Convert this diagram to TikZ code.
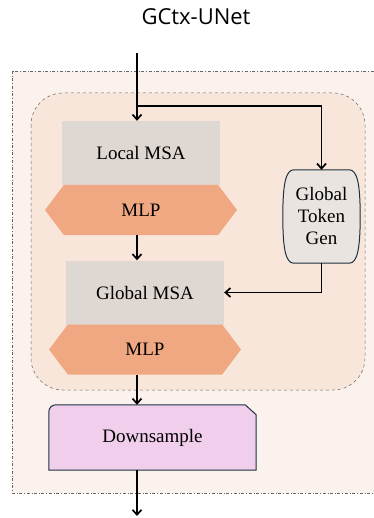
\documentclass[tikz,border=0pt]{standalone}
\usepackage{fontspec}
\setmainfont{Liberation Serif}
\newfontfamily\boxfont{Liberation Serif}
\newfontfamily\titlefont{Open Sans}
\usetikzlibrary{arrows.meta,calc,shapes.symbols,backgrounds}

\definecolor{outerfill}{RGB}{252,242,237}
\definecolor{innerfill}{RGB}{249,230,218}
\definecolor{msafill}{RGB}{223,215,209}
\definecolor{mlpfill}{RGB}{240,168,130}
\definecolor{gtgfill}{RGB}{234,228,225}
\definecolor{dsfill}{RGB}{240,206,236}
\definecolor{edgedark}{RGB}{28,50,64}

\begin{document}
\begin{tikzpicture}[x=1pt,y=-1pt,
  every node/.style={font=\boxfont\fontsize{19}{22}\selectfont},
  arr/.style={line width=1.7pt,-{Straight Barb[length=5pt,width=9pt,line width=1.7pt]}},
  msabox/.style={rectangle,fill=msafill,minimum width=158pt,minimum height=64pt,inner sep=0pt},
  mlpbox/.style={signal,signal to=west and east,signal pointer angle=106,fill=mlpfill,
    minimum width=192pt,minimum height=50pt,inner sep=0pt},
  plainbox/.style={rectangle,inner sep=0pt,align=center},
  outline/.style={draw=edgedark,line width=1pt}]
\useasboundingbox (0,0) rectangle (373,518);

\node[font=\titlefont\fontsize{22}{24}\selectfont] (title) at (196,17) {GCtx-UNet};

% blocks
\node[msabox] (lmsa) at (141,153) {Local MSA};
\node[mlpbox] (mlpa) at (141,210) {MLP};
\node[msabox] (gmsa) at (145,292.5) {Global MSA};
\node[mlpbox] (mlpb) at (145,349.5) {MLP};
\node[plainbox,minimum width=77pt,minimum height=93pt] (gtg) at (321.5,216.5) {Global\\Token\\Gen};
\node[plainbox,minimum width=207pt,minimum height=65pt] (ds) at (152.5,437.5) {Downsample};

\begin{scope}[on background layer]
% frames
\draw[gray!80!black,dash dot,fill=outerfill,line width=0.5pt] (12,71) rectangle (385,493);
\draw[gray!80!black,dashed,fill=innerfill,line width=0.5pt,rounded corners=32pt] (31,93) rectangle (365,390);
% outlines behind the text of gtg and ds
\draw[outline,fill=gtgfill] ($(gtg.north west)+(11,0)$) -- ($(gtg.north east)+(-11,0)$)
  .. controls ($(gtg.north east)+(-3,0)$) and ($(gtg.north east)+(0,14)$) .. (gtg.east)
  .. controls ($(gtg.south east)+(0,-14)$) and ($(gtg.south east)+(-3,0)$) .. ($(gtg.south east)+(-11,0)$)
  -- ($(gtg.south west)+(11,0)$)
  .. controls ($(gtg.south west)+(3,0)$) and ($(gtg.south west)+(0,-14)$) .. (gtg.west)
  .. controls ($(gtg.north west)+(0,14)$) and ($(gtg.north west)+(3,0)$) .. cycle;
\draw[outline,fill=dsfill] (ds.west) [rounded corners=7pt] -- (ds.north west) -- (ds.north)
  [sharp corners] -- ($(ds.north east)+(-11,0)$) -- ($(ds.north east)+(0,10)$)
  -- (ds.south east) -- (ds.south west) -- cycle;
\end{scope}

\coordinate (in) at (137,53);
\coordinate (br) at (137,106);
\coordinate (out) at (137,516);

% connectors
\draw[arr] (in) -- (lmsa.north -| in);
\draw[arr] (br) -| (gtg.north);
\draw[arr] (mlpa.south -| in) -- (gmsa.north -| in);
\draw[arr] (gtg.south) |- (gmsa.east);
\draw[arr] (mlpb.south -| in) -- (ds.north -| in);
\draw[arr] (ds.south -| in) -- (out);
\end{tikzpicture}
\end{document}
